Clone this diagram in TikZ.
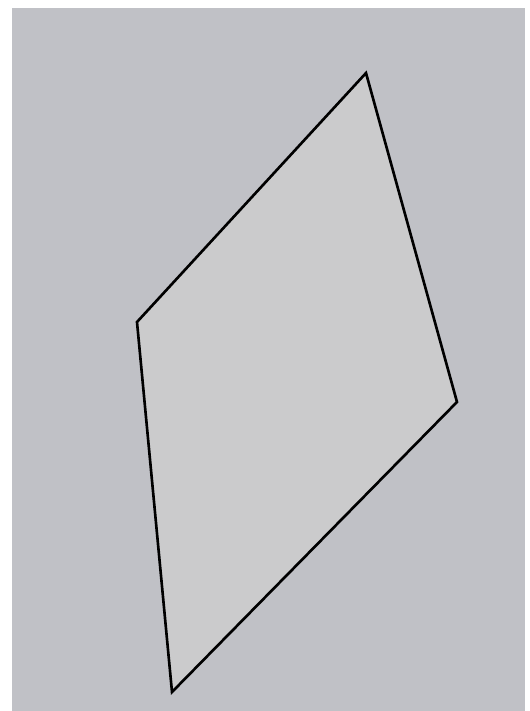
\documentclass[tikz,border=0pt]{standalone}
\usepackage{xcolor}
\definecolor{fundo}{RGB}{192, 193, 198}
\definecolor{placa}{RGB}{203, 203, 204}
\tikzset{
  borda/.style={draw=black, line width=1.5pt, line join=miter, fill=placa},
}
\begin{document}
\begin{tikzpicture}[x=0.02cm, y=-0.02cm]
  \useasboundingbox (0,0) rectangle (529,711);
  \fill[white] (0,0) rectangle (529,711);
  \fill[fundo] (12,8) rectangle (525,711);

  \coordinate (topo)  at (366,73);
  \coordinate (esq)   at (137,322);
  \coordinate (dir)   at (457,402);
  \coordinate (base)  at (172,692);

  \draw[borda] (topo) -- (dir) -- (base) -- (esq) -- cycle;
\end{tikzpicture}
\end{document}
